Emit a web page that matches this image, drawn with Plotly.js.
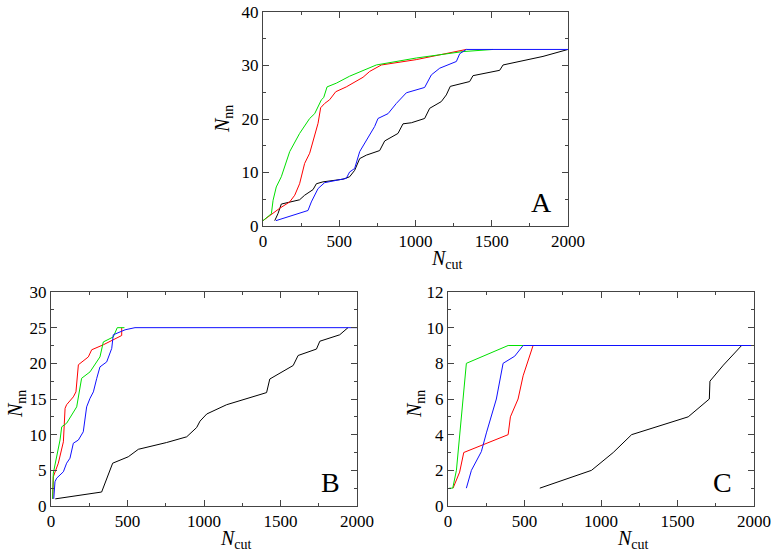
<!DOCTYPE html>
<html><head><meta charset="utf-8">
<script src="https://cdn.plot.ly/plotly-3.0.1.min.js"></script>
<style>
body{margin:0;background:#fff}#plot{width:777px;height:554px}
</style>
</head><body><div id="plot"></div>
<script>
// Panel A
const A_black_x = [77,98,120,175,240,273,328,350,393,525,568,601,634,678,765,798,885,918,973,1060,1093,1169,1202,1228,1355,1377,1552,1574,1836,2000];
const A_black_y = [1,2.3,4.1,4.5,4.9,5.75,6.8,7.9,8.25,8.75,9.2,10.4,12.6,13.25,14.1,15.9,17.3,19.1,19.3,20.1,22,23.25,24.5,26.1,27,28.1,29.1,30.1,31.7,33];
const A_red_x = [0,109,175,208,240,273,306,339,361,378,404,437,477,546,656,700,776,1005,1311,1333];
const A_red_y = [1,3.3,4.5,5.75,7.9,11.7,13.6,16.7,19.2,22.1,22.9,23.6,25.1,26,27.8,28.9,30.1,31.1,32.8,33];
const A_green_x = [0,55,66,87,120,175,240,306,339,361,383,398,420,481,568,743,1005,1311,1508];
const A_green_y = [1,2.3,4.8,7.3,9.2,13.9,17.3,20.1,21,22.4,23.6,24,26,26.7,28,30.1,31.4,32.6,33];
const A_blue_x = [85,295,317,361,404,481,546,568,601,634,678,732,754,820,874,940,1060,1104,1159,1268,1290,1333,2000];
const A_blue_y = [1,2.9,4.5,7,8.1,8.6,8.9,10.1,10.75,13.9,16.1,18.6,20.1,21,22.9,24.9,25.9,28.25,29.5,30.75,32.2,33,33];
// Panel B
const B_black_x = [28,331,403,505,571,756,887,952,974,1018,1148,1409,1430,1583,1615,1735,1757,1887,1941];
const B_black_y = [1,1.96,6.0,6.9,7.95,8.9,9.7,11.0,11.9,12.9,14.2,15.9,17.8,19.7,21.1,22,23.1,24,25];
const B_red_x = [11,15,48,81,92,102,146,163,179,200,244,266,342,462,462];
const B_red_y = [1,4.1,6.0,9.0,13.7,14.2,15.3,16,19.8,20.2,20.9,21.9,22.6,23.9,25];
const B_green_x = [11,15,59,70,102,168,200,255,320,342,407,433,480];
const B_green_y = [1,4.6,9.25,11.1,11.6,13.9,17.9,18.8,20.9,23.0,23.7,25,25];
const B_blue_x = [18,26,37,81,102,124,146,179,211,233,255,277,299,320,364,397,407,484,549,2000];
const B_blue_y = [1,3.4,3.9,4.8,6.0,6.7,8.8,9.25,10.4,13.9,15.1,16.0,17.9,19.5,20.2,22.1,24.0,24.7,25,25];
// Panel C
const C_black_x = [600,938,1080,1200,1570,1708,1712,1800,1919];
const C_black_y = [1,2,3,4,5,6,7,7.9,9];
const C_red_x = [33,76,103,393,408,458,491,556];
const C_red_y = [1,1.9,3.0,4.0,5.0,6.0,7.3,9];
const C_green_x = [9,31,55,98,120,393,491];
const C_green_y = [1,1,2.0,5.9,8.0,9.0,9];
const C_blue_x = [120,153,218,251,316,360,436,491,2000];
const C_blue_y = [1,2.0,3.05,4.1,6.0,8.0,8.4,9,9];

const panelLabels = ['A','B','C'];
const xTitle = '<i>N</i><sub>cut</sub>';
const yTitle = '<i>N</i><sub>nn</sub>';

const serif = 'Liberation Serif, Times New Roman, serif';
const colors = {black:'#000000', red:'#ff0000', green:'#00e000', blue:'#1010ff'};
function tr(x,y,c,xa,ya){return {x:x,y:y,mode:'lines',line:{color:colors[c],width:1},xaxis:xa,yaxis:ya,hoverinfo:'skip'};}
const data = [
  tr(A_black_x,A_black_y,'black','x','y'), tr(A_red_x,A_red_y,'red','x','y'), tr(A_green_x,A_green_y,'green','x','y'), tr(A_blue_x,A_blue_y,'blue','x','y'),
  tr(B_black_x,B_black_y,'black','x2','y2'), tr(B_red_x,B_red_y,'red','x2','y2'), tr(B_green_x,B_green_y,'green','x2','y2'), tr(B_blue_x,B_blue_y,'blue','x2','y2'),
  tr(C_black_x,C_black_y,'black','x3','y3'), tr(C_red_x,C_red_y,'red','x3','y3'), tr(C_green_x,C_green_y,'green','x3','y3'), tr(C_blue_x,C_blue_y,'blue','x3','y3')
];
const fnt = {family:serif, size:17, color:'#000'};
const tfnt = {family:serif, size:20, color:'#000'};
const axc = '#444';
function xax(dom, anchor){return {domain:dom, anchor:anchor, range:[0,2000], dtick:500, tick0:0, ticks:'inside', ticklen:6, tickcolor:axc, showline:true, linecolor:axc, linewidth:1, mirror:'allticks', showgrid:false, zeroline:false, tickfont:fnt,
  minor:{dtick:250, ticks:'inside', ticklen:3, tickcolor:axc, showgrid:false}};}
function yax(dom, anchor, rng, dt, mdt){return {domain:dom, anchor:anchor, range:rng, dtick:dt, tick0:0, ticks:'inside', ticklen:6, tickcolor:axc, showline:true, linecolor:axc, linewidth:1, mirror:'allticks', showgrid:false, zeroline:false, tickfont:fnt,
  minor:{dtick:mdt, ticks:'inside', ticklen:3, tickcolor:axc, showgrid:false}};}
const W = 777, H = 554;
const afnt = {family:serif, size:28, color:'#000'};
function lab(t, xr, yr, xin){return {text:t, xref:xr, yref:yr, x:xin, y:0.03, xanchor:'right', yanchor:'bottom', showarrow:false, font:afnt};}
function xt(cx, top){return {text:xTitle, xref:'paper', yref:'paper', x:cx/W, y:1-top/H, xanchor:'center', yanchor:'top', showarrow:false, font:tfnt};}
function yt(cx, cy){return {text:yTitle, xref:'paper', yref:'paper', x:cx/W, y:1-cy/H, xanchor:'center', yanchor:'middle', textangle:-90, showarrow:false, font:tfnt};}
const layout = {
  width:W, height:H, margin:{l:0,r:0,t:0,b:0}, paper_bgcolor:'#fff', plot_bgcolor:'#fff', showlegend:false,
  font:fnt,
  xaxis: xax([263/W,568/W],'y'),
  yaxis: yax([1-226/H,1-12/H],'x',[0,40],10,5),
  xaxis2: xax([51/W,357/W],'y2'),
  yaxis2: yax([1-506/H,1-292/H],'x2',[0,30],5,2.5),
  xaxis3: xax([448/W,754/W],'y3'),
  yaxis3: yax([1-506/H,1-292/H],'x3',[0,12],2,1),
  annotations: [
    lab(panelLabels[0],'x domain','y domain',0.955),
    lab(panelLabels[1],'x2 domain','y2 domain',0.95),
    lab(panelLabels[2],'x3 domain','y3 domain',0.935),
    xt(447, 245), xt(236, 525), xt(633, 525),
    yt(224, 119), yt(16, 404), yt(415, 404)
  ]
};
Plotly.newPlot('plot', data, layout, {staticPlot:true});
</script></body></html>
